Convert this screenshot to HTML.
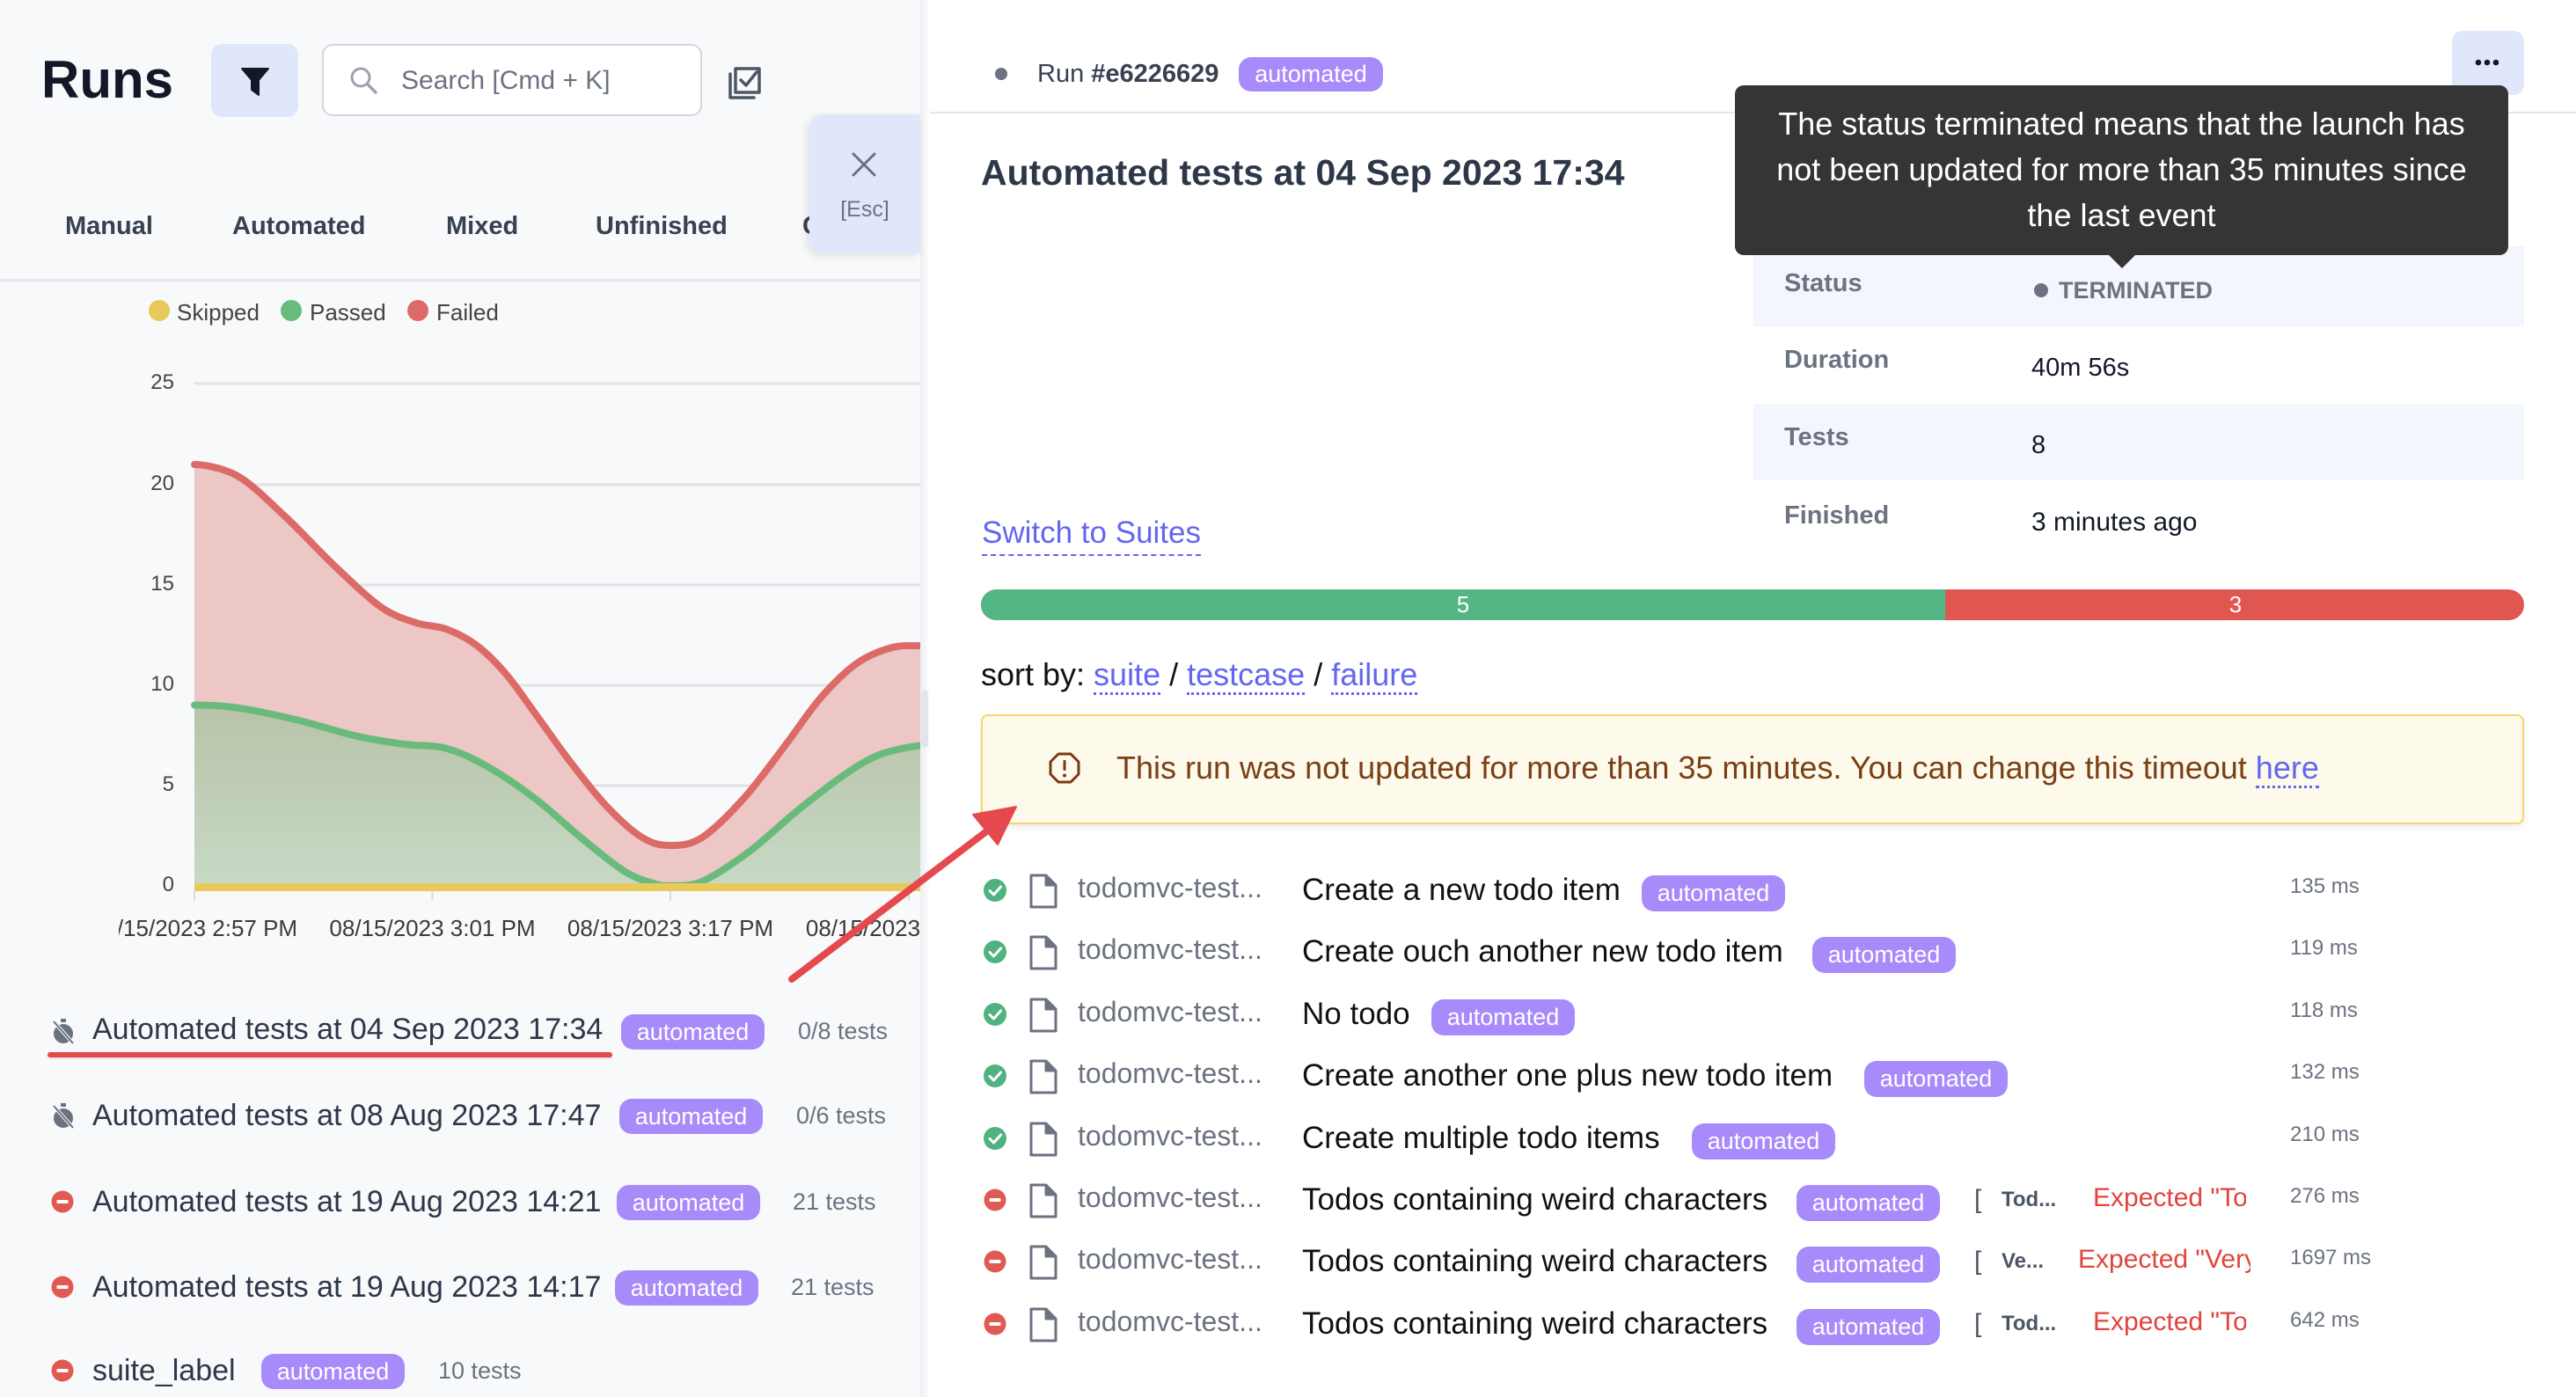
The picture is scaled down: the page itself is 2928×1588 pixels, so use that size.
<!DOCTYPE html>
<html>
<head>
<meta charset="utf-8">
<style>
html,body{margin:0;padding:0;}
body{width:2928px;height:1588px;overflow:hidden;background:#ffffff;position:relative;font-family:"Liberation Sans",sans-serif;}
.t{position:absolute;white-space:nowrap;font-family:"Liberation Sans",sans-serif;}
.badge{position:absolute;height:41px;width:163px;border-radius:14px;background:#a78bfa;color:#fff;font-size:27px;line-height:41px;text-align:center;font-family:"Liberation Sans",sans-serif;}
</style>
</head>
<body>

<!-- LEFT PANEL -->
<div style="position:absolute;left:0;top:0;width:1046px;height:1588px;background:#f8f9fb;"></div>
<div style="position:absolute;left:1046px;top:0;width:11px;height:1588px;background:linear-gradient(to right,#eceef1,#f7f8f9 60%,#ffffff);"></div>
<div style="position:absolute;left:1047px;top:784px;width:8px;height:66px;border-radius:4px;background:#e3e5e9;"></div>

<!-- Runs header -->
<div class="t" style="left:47px;top:58px;font-size:60px;line-height:66px;font-weight:bold;color:#111827;">Runs</div>
<div style="position:absolute;left:240px;top:50px;width:99px;height:83px;border-radius:12px;background:#e1e7fb;"></div>
<svg style="position:absolute;left:274px;top:76px" width="32" height="34" viewBox="0 0 32 34">
  <path d="M1,2 H31 L20,15 V32 L12,26 V15 Z" fill="#111827" stroke="#111827" stroke-width="2" stroke-linejoin="round"/>
</svg>
<div style="position:absolute;left:366px;top:50px;width:428px;height:78px;border:2px solid #d4d7dd;border-radius:12px;background:#fff;"></div>
<svg style="position:absolute;left:396px;top:74px" width="36" height="36" viewBox="0 0 36 36">
  <circle cx="14" cy="14" r="10" fill="none" stroke="#9ca3af" stroke-width="3"/>
  <line x1="21.5" y1="21.5" x2="31" y2="31" stroke="#9ca3af" stroke-width="3.5" stroke-linecap="round"/>
</svg>
<div class="t" style="left:456px;top:72px;font-size:30px;line-height:40px;color:#6b7280;">Search [Cmd + K]</div>
<svg style="position:absolute;left:826px;top:74px" width="42" height="40" viewBox="0 0 42 40">
  <path d="M4,10 V37 H31" fill="none" stroke="#4b5563" stroke-width="3.5" stroke-linecap="round" stroke-linejoin="round"/>
  <path d="M10,4 H37 V31 H10 Z" fill="none" stroke="#4b5563" stroke-width="3.5" stroke-linejoin="round"/>
  <path d="M16,17 L22,23 L34,8" fill="none" stroke="#4b5563" stroke-width="3.5" stroke-linecap="round" stroke-linejoin="round"/>
</svg>

<!-- Tabs -->
<div class="t" style="left:74px;top:237px;font-size:29px;line-height:40px;font-weight:bold;color:#374151;">Manual</div>
<div class="t" style="left:264px;top:237px;font-size:29px;line-height:40px;font-weight:bold;color:#374151;">Automated</div>
<div class="t" style="left:507px;top:237px;font-size:29px;line-height:40px;font-weight:bold;color:#374151;">Mixed</div>
<div class="t" style="left:677px;top:237px;font-size:29px;line-height:40px;font-weight:bold;color:#374151;">Unfinished</div>
<div style="position:absolute;left:900px;top:230px;width:146px;height:60px;overflow:hidden;">
  <div class="t" style="left:12px;top:7px;font-size:29px;line-height:40px;font-weight:bold;color:#374151;">Completed</div>
</div>

<!-- Close button -->
<div style="position:absolute;left:920px;top:130px;width:126px;height:158px;border-radius:16px 0 0 16px;background:#e1e7fb;box-shadow:-3px 3px 10px rgba(0,0,0,0.10);"></div>
<svg style="position:absolute;left:966px;top:172px" width="32" height="30" viewBox="0 0 32 30">
  <line x1="4" y1="3" x2="28" y2="27" stroke="#6b7280" stroke-width="3" stroke-linecap="round"/>
  <line x1="28" y1="3" x2="4" y2="27" stroke="#6b7280" stroke-width="3" stroke-linecap="round"/>
</svg>
<div class="t" style="left:920px;width:126px;text-align:center;top:222px;font-size:25px;line-height:32px;color:#6b7280;">[Esc]</div>

<div style="position:absolute;left:0;top:317px;width:1046px;height:3px;background:#e5e7eb;"></div>

<!-- Legend + Chart -->
<svg style="position:absolute;left:0;top:0" width="1046" height="1100">
  <circle cx="181" cy="353" r="12" fill="#e8c95c"/>
  <circle cx="331" cy="353" r="12" fill="#69bb7c"/>
  <circle cx="475" cy="353" r="12" fill="#dc6b68"/>
  <text x="201" y="364" font-family="Liberation Sans" font-size="26" fill="#444">Skipped</text>
  <text x="352" y="364" font-family="Liberation Sans" font-size="26" fill="#444">Passed</text>
  <text x="496" y="364" font-family="Liberation Sans" font-size="26" fill="#444">Failed</text>

  <defs>
    <clipPath id="cc"><rect x="135" y="380" width="911" height="720"/></clipPath>
    <linearGradient id="gg" x1="0" y1="0" x2="0" y2="1">
      <stop offset="0" stop-color="#b8c3a8"/>
      <stop offset="1" stop-color="#c7d9c6"/>
    </linearGradient>
  </defs>
  <g clip-path="url(#cc)">
    <g stroke="#e1e2e5" stroke-width="3">
      <line x1="221" y1="436" x2="1046" y2="436"/>
      <line x1="221" y1="551" x2="1046" y2="551"/>
      <line x1="221" y1="665" x2="1046" y2="665"/>
      <line x1="221" y1="779" x2="1046" y2="779"/>
      <line x1="221" y1="893" x2="1046" y2="893"/>
    </g>
    <g stroke="#dcdcdc" stroke-width="2">
      <line x1="221" y1="1012" x2="221" y2="1024"/>
      <line x1="491.5" y1="1012" x2="491.5" y2="1024"/>
      <line x1="762" y1="1012" x2="762" y2="1024"/>
      <line x1="1033" y1="1012" x2="1033" y2="1024"/>
    </g>
    <g font-family="Liberation Sans" font-size="24" fill="#444" text-anchor="end">
      <text x="198" y="442">25</text>
      <text x="198" y="557">20</text>
      <text x="198" y="671">15</text>
      <text x="198" y="785">10</text>
      <text x="198" y="899">5</text>
      <text x="198" y="1013">0</text>
    </g>
    <g font-family="Liberation Sans" font-size="26" fill="#3a3a3a" text-anchor="middle">
      <text x="221" y="1064">08/15/2023 2:57 PM</text>
      <text x="491.5" y="1064">08/15/2023 3:01 PM</text>
      <text x="762" y="1064">08/15/2023 3:17 PM</text>
      <text x="1033" y="1064">08/15/2023 3:25 PM</text>
    </g>
    <!-- red area -->
    <path fill="#edc6c6" d="M221,528 C229,528 252.8,531.2 270,541 C287.2,550.8 305.8,570.2 324,587 C342.2,603.8 360.8,624.8 379,642 C397.2,659.2 417.3,679 433,690 C448.7,701 460.7,703.8 473,708 C485.3,712.2 495.7,710.8 507,715 C518.3,719.2 529.7,724.5 541,733 C552.3,741.5 563.7,752.8 575,766 C586.3,779.2 596.7,795.2 609,812 C621.3,828.8 635.5,849.5 649,867 C662.5,884.5 676.5,902.8 690,917 C703.5,931.2 718,944.7 730,952 C742,959.3 750.7,961 762,961 C773.3,961 784.2,960.8 798,952 C811.8,943.2 829.3,925.3 845,908 C860.7,890.7 877.3,867.2 892,848 C906.7,828.8 919.3,808.7 933,793 C946.7,777.3 960.5,763.5 974,754 C987.5,744.5 1002,739.3 1014,736 C1026,732.7 1040.7,734.3 1046,734 L1046,1008 L221,1008 Z"/>
    <!-- green area -->
    <path fill="url(#gg)" d="M221,801.5 C229,801.5 251,801.9 270.5,804.7 C290,807.5 315.5,813.15 338,818.5 C360.5,823.85 385.4,832.2 405.7,836.8 C426,841.4 442.9,843.7 459.8,846 C476.7,848.3 491.3,846.4 507,850.6 C522.7,854.8 537.1,861.7 554,871.3 C570.9,880.9 590.4,894.2 608.5,908 C626.6,921.8 645.7,940.2 662.6,954 C679.5,967.8 696.5,982.2 710,990.6 C723.5,999 735,1001.7 743.7,1004.4 C752.4,1007.1 753,1007.1 762,1006.7 C771,1006.3 783,1008.5 798,1002 C813,995.5 834,981.1 852,967.7 C870,954.3 888,936.3 906,921.8 C924,907.3 944.2,891.2 960,880.5 C975.8,869.8 986.4,863 1000.7,857.5 C1015,852 1041,847.9 1046,847.4 L1046,1008 L221,1008 Z"/>
    <path fill="none" stroke="#dc6b68" stroke-width="8" stroke-linecap="round" d="M221,528 C229,528 252.8,531.2 270,541 C287.2,550.8 305.8,570.2 324,587 C342.2,603.8 360.8,624.8 379,642 C397.2,659.2 417.3,679 433,690 C448.7,701 460.7,703.8 473,708 C485.3,712.2 495.7,710.8 507,715 C518.3,719.2 529.7,724.5 541,733 C552.3,741.5 563.7,752.8 575,766 C586.3,779.2 596.7,795.2 609,812 C621.3,828.8 635.5,849.5 649,867 C662.5,884.5 676.5,902.8 690,917 C703.5,931.2 718,944.7 730,952 C742,959.3 750.7,961 762,961 C773.3,961 784.2,960.8 798,952 C811.8,943.2 829.3,925.3 845,908 C860.7,890.7 877.3,867.2 892,848 C906.7,828.8 919.3,808.7 933,793 C946.7,777.3 960.5,763.5 974,754 C987.5,744.5 1002,739.3 1014,736 C1026,732.7 1040.7,734.3 1046,734"/>
    <path fill="none" stroke="#69bb7c" stroke-width="8" stroke-linecap="round" d="M221,801.5 C229,801.5 251,801.9 270.5,804.7 C290,807.5 315.5,813.15 338,818.5 C360.5,823.85 385.4,832.2 405.7,836.8 C426,841.4 442.9,843.7 459.8,846 C476.7,848.3 491.3,846.4 507,850.6 C522.7,854.8 537.1,861.7 554,871.3 C570.9,880.9 590.4,894.2 608.5,908 C626.6,921.8 645.7,940.2 662.6,954 C679.5,967.8 696.5,982.2 710,990.6 C723.5,999 735,1001.7 743.7,1004.4 C752.4,1007.1 753,1007.1 762,1006.7 C771,1006.3 783,1008.5 798,1002 C813,995.5 834,981.1 852,967.7 C870,954.3 888,936.3 906,921.8 C924,907.3 944.2,891.2 960,880.5 C975.8,869.8 986.4,863 1000.7,857.5 C1015,852 1041,847.9 1046,847.4"/>
    <line x1="221" y1="1008.5" x2="1046" y2="1008.5" stroke="#e8c95c" stroke-width="9"/>
  </g>
</svg>

<!-- Runs list -->
<svg style="position:absolute;left:56px;top:1157px" width="32" height="32" viewBox="0 0 32 32">
  <rect x="13" y="1" width="6" height="4" fill="#6b7280"/>
  <circle cx="16" cy="18" r="11" fill="#6b7280"/>
  <line x1="4" y1="3" x2="28" y2="30" stroke="#f8f9fb" stroke-width="4"/>
  <line x1="5" y1="4" x2="27" y2="29" stroke="#6b7280" stroke-width="2"/>
</svg>
<div class="t" style="left:105px;top:1150px;font-size:34px;line-height:40px;color:#2d3748;">Automated tests at 04 Sep 2023 17:34</div>
<div class="badge" style="left:706px;top:1153px;height:40px;line-height:40px;">automated</div>
<div class="t" style="left:907px;top:1153px;font-size:27px;line-height:38px;color:#6b7280;">0/8 tests</div>
<div style="position:absolute;left:54px;top:1196px;width:642px;height:6px;border-radius:3px;background:#e5484d;box-shadow:0 1px 2px rgba(0,0,0,0.15);"></div>

<svg style="position:absolute;left:56px;top:1253px" width="32" height="32" viewBox="0 0 32 32">
  <rect x="13" y="1" width="6" height="4" fill="#6b7280"/>
  <circle cx="16" cy="18" r="11" fill="#6b7280"/>
  <line x1="4" y1="3" x2="28" y2="30" stroke="#f8f9fb" stroke-width="4"/>
  <line x1="5" y1="4" x2="27" y2="29" stroke="#6b7280" stroke-width="2"/>
</svg>
<div class="t" style="left:105px;top:1248px;font-size:34px;line-height:40px;color:#2d3748;">Automated tests at 08 Aug 2023 17:47</div>
<div class="badge" style="left:704px;top:1249px;height:40px;line-height:40px;">automated</div>
<div class="t" style="left:905px;top:1249px;font-size:27px;line-height:38px;color:#6b7280;">0/6 tests</div>

<svg style="position:absolute;left:58px;top:1353px" width="26" height="26" viewBox="0 0 26 26">
  <circle cx="13" cy="13" r="12.5" fill="#e05a53"/><rect x="6.5" y="11" width="13" height="4" rx="1" fill="#fff"/>
</svg>
<div class="t" style="left:105px;top:1346px;font-size:34px;line-height:40px;color:#2d3748;">Automated tests at 19 Aug 2023 14:21</div>
<div class="badge" style="left:701px;top:1347px;height:40px;line-height:40px;">automated</div>
<div class="t" style="left:901px;top:1347px;font-size:27px;line-height:38px;color:#6b7280;">21 tests</div>

<svg style="position:absolute;left:58px;top:1450px" width="26" height="26" viewBox="0 0 26 26">
  <circle cx="13" cy="13" r="12.5" fill="#e05a53"/><rect x="6.5" y="11" width="13" height="4" rx="1" fill="#fff"/>
</svg>
<div class="t" style="left:105px;top:1443px;font-size:34px;line-height:40px;color:#2d3748;">Automated tests at 19 Aug 2023 14:17</div>
<div class="badge" style="left:699px;top:1444px;height:40px;line-height:40px;">automated</div>
<div class="t" style="left:899px;top:1444px;font-size:27px;line-height:38px;color:#6b7280;">21 tests</div>

<svg style="position:absolute;left:58px;top:1545px" width="26" height="26" viewBox="0 0 26 26">
  <circle cx="13" cy="13" r="12.5" fill="#e05a53"/><rect x="6.5" y="11" width="13" height="4" rx="1" fill="#fff"/>
</svg>
<div class="t" style="left:105px;top:1538px;font-size:34px;line-height:40px;color:#2d3748;">suite_label</div>
<div class="badge" style="left:297px;top:1539px;height:40px;line-height:40px;">automated</div>
<div class="t" style="left:498px;top:1539px;font-size:27px;line-height:38px;color:#6b7280;">10 tests</div>

<!-- RIGHT PANEL -->
<div style="position:absolute;left:1131px;top:77px;width:14px;height:14px;border-radius:50%;background:#6b7280;"></div>
<div class="t" style="left:1179px;top:64px;font-size:29px;line-height:40px;color:#374151;">Run <b>#e6226629</b></div>
<div class="badge" style="left:1408px;top:65px;height:39px;line-height:39px;width:164px;">automated</div>
<div style="position:absolute;left:1057px;top:127px;width:1871px;height:2px;background:#e5e7eb;"></div>

<div style="position:absolute;left:2787px;top:35px;width:82px;height:73px;border-radius:12px;background:#e1e7fb;"></div>
<svg style="position:absolute;left:2812px;top:65px" width="30" height="12" viewBox="0 0 30 12">
  <circle cx="5" cy="6" r="3.3" fill="#111827"/><circle cx="15" cy="6" r="3.3" fill="#111827"/><circle cx="25" cy="6" r="3.3" fill="#111827"/>
</svg>

<div class="t" style="left:1115px;top:172px;font-size:41px;line-height:48px;font-weight:bold;color:#2d3748;">Automated tests at 04 Sep 2023 17:34</div>

<!-- Table -->
<div style="position:absolute;left:1993px;top:280px;width:876px;height:91px;background:#f3f6fd;"></div>
<div style="position:absolute;left:1993px;top:459px;width:876px;height:87px;background:#f3f6fd;"></div>
<div class="t" style="left:2028px;top:302px;font-size:29px;line-height:40px;font-weight:bold;color:#6b7280;">Status</div>
<div style="position:absolute;left:2312px;top:322px;width:16px;height:16px;border-radius:50%;background:#6b7280;"></div>
<div class="t" style="left:2340px;top:310px;font-size:27px;line-height:40px;font-weight:bold;color:#6b7280;">TERMINATED</div>
<div class="t" style="left:2028px;top:389px;font-size:29px;line-height:40px;font-weight:bold;color:#6b7280;">Duration</div>
<div class="t" style="left:2309px;top:398px;font-size:29px;line-height:40px;color:#111827;">40m 56s</div>
<div class="t" style="left:2028px;top:477px;font-size:29px;line-height:40px;font-weight:bold;color:#6b7280;">Tests</div>
<div class="t" style="left:2309px;top:486px;font-size:29px;line-height:40px;color:#111827;">8</div>
<div class="t" style="left:2028px;top:566px;font-size:29px;line-height:40px;font-weight:bold;color:#6b7280;">Finished</div>
<div class="t" style="left:2309px;top:574px;font-size:30px;line-height:40px;color:#111827;">3 minutes ago</div>

<!-- Tooltip -->
<div style="position:absolute;left:1972px;top:97px;width:879px;height:193px;border-radius:10px;background:#353535;"></div>
<svg style="position:absolute;left:2395px;top:288px" width="34" height="18" viewBox="0 0 34 18"><polygon points="0,0 34,0 17,17" fill="#353535"/></svg>
<div class="t" style="left:1972px;top:115px;width:879px;text-align:center;font-size:36px;line-height:52px;color:#ffffff;">The status terminated means that the launch has<br>not been updated for more than 35 minutes since<br>the last event</div>

<!-- Switch to suites -->
<div class="t" style="left:1116px;top:586px;font-size:35px;line-height:40px;color:#6366f1;"><span style="border-bottom:2px dashed #6366f1;padding-bottom:5px;">Switch to Suites</span></div>

<!-- Progress bar -->
<div style="position:absolute;left:1115px;top:670px;width:1754px;height:35px;border-radius:18px;overflow:hidden;background:#e05650;">
  <div style="position:absolute;left:0;top:0;width:1096px;height:35px;background:#55b685;"></div>
</div>
<div class="t" style="left:1623px;width:80px;text-align:center;top:670px;font-size:26px;line-height:35px;color:#fff;">5</div>
<div class="t" style="left:2501px;width:80px;text-align:center;top:670px;font-size:26px;line-height:35px;color:#fff;">3</div>

<!-- Sort by -->
<div class="t" style="left:1115px;top:746px;font-size:36px;line-height:42px;color:#111;">sort by: <span style="color:#6366f1;border-bottom:3px dotted #6366f1;">suite</span> / <span style="color:#6366f1;border-bottom:3px dotted #6366f1;">testcase</span> / <span style="color:#6366f1;border-bottom:3px dotted #6366f1;">failure</span></div>

<!-- Warning -->
<div style="position:absolute;left:1115px;top:812px;width:1750px;height:121px;border:2px solid #f5d667;border-radius:8px;background:#fdfaeb;box-shadow:0 4px 8px rgba(0,0,0,0.07);"></div>
<svg style="position:absolute;left:1192px;top:855px" width="36" height="36" viewBox="0 0 36 36">
  <polygon points="11,2 25,2 34,11 34,25 25,34 11,34 2,25 2,11" fill="none" stroke="#7c3a0e" stroke-width="3" stroke-linejoin="round"/>
  <rect x="16.5" y="9" width="3" height="12" rx="1" fill="#7c3a0e"/>
  <circle cx="18" cy="26.5" r="2" fill="#7c3a0e"/>
</svg>
<div class="t" style="left:1269px;top:852px;font-size:36px;line-height:42px;color:#7b3f14;">This run was not updated for more than 35 minutes. You can change this timeout <span style="color:#6366f1;border-bottom:3px dotted #6366f1;">here</span></div>

<!-- Test rows -->
<!-- Row 1 -->
<svg style="position:absolute;left:1117px;top:998px" width="28" height="28" viewBox="0 0 28 28"><circle cx="14" cy="14" r="13" fill="#4fb27f"/><path d="M8,14.5 L12.5,19 L20.5,10" fill="none" stroke="#fff" stroke-width="3" stroke-linecap="round" stroke-linejoin="round"/></svg>
<svg style="position:absolute;left:1169px;top:993px" width="34" height="40" viewBox="0 0 34 40"><path d="M3,2 H20 L31,13 V38 H3 Z" fill="none" stroke="#6b7280" stroke-width="3" stroke-linejoin="round"/><path d="M20,2 V13 H31" fill="#6b7280" stroke="#6b7280" stroke-width="3" stroke-linejoin="round"/></svg>
<div class="t" style="left:1225px;top:987px;font-size:32px;line-height:44px;color:#6b7280;">todomvc-test...</div>
<div class="t" style="left:1480px;top:990px;font-size:35px;line-height:44px;color:#111;">Create a new todo item</div>
<div class="badge" style="left:1866px;top:995px;">automated</div>
<div class="t" style="left:2603px;top:992px;font-size:24px;line-height:32px;color:#6b7280;">135 ms</div>

<!-- Row 2 -->
<svg style="position:absolute;left:1117px;top:1068px" width="28" height="28" viewBox="0 0 28 28"><circle cx="14" cy="14" r="13" fill="#4fb27f"/><path d="M8,14.5 L12.5,19 L20.5,10" fill="none" stroke="#fff" stroke-width="3" stroke-linecap="round" stroke-linejoin="round"/></svg>
<svg style="position:absolute;left:1169px;top:1063px" width="34" height="40" viewBox="0 0 34 40"><path d="M3,2 H20 L31,13 V38 H3 Z" fill="none" stroke="#6b7280" stroke-width="3" stroke-linejoin="round"/><path d="M20,2 V13 H31" fill="#6b7280" stroke="#6b7280" stroke-width="3" stroke-linejoin="round"/></svg>
<div class="t" style="left:1225px;top:1057px;font-size:32px;line-height:44px;color:#6b7280;">todomvc-test...</div>
<div class="t" style="left:1480px;top:1060px;font-size:35px;line-height:44px;color:#111;">Create ouch another new todo item</div>
<div class="badge" style="left:2060px;top:1065px;">automated</div>
<div class="t" style="left:2603px;top:1062px;font-size:24px;line-height:32px;color:#6b7280;">119 ms</div>

<!-- Row 3 -->
<svg style="position:absolute;left:1117px;top:1139px" width="28" height="28" viewBox="0 0 28 28"><circle cx="14" cy="14" r="13" fill="#4fb27f"/><path d="M8,14.5 L12.5,19 L20.5,10" fill="none" stroke="#fff" stroke-width="3" stroke-linecap="round" stroke-linejoin="round"/></svg>
<svg style="position:absolute;left:1169px;top:1134px" width="34" height="40" viewBox="0 0 34 40"><path d="M3,2 H20 L31,13 V38 H3 Z" fill="none" stroke="#6b7280" stroke-width="3" stroke-linejoin="round"/><path d="M20,2 V13 H31" fill="#6b7280" stroke="#6b7280" stroke-width="3" stroke-linejoin="round"/></svg>
<div class="t" style="left:1225px;top:1128px;font-size:32px;line-height:44px;color:#6b7280;">todomvc-test...</div>
<div class="t" style="left:1480px;top:1131px;font-size:35px;line-height:44px;color:#111;">No todo</div>
<div class="badge" style="left:1627px;top:1136px;">automated</div>
<div class="t" style="left:2603px;top:1133px;font-size:24px;line-height:32px;color:#6b7280;">118 ms</div>

<!-- Row 4 -->
<svg style="position:absolute;left:1117px;top:1209px" width="28" height="28" viewBox="0 0 28 28"><circle cx="14" cy="14" r="13" fill="#4fb27f"/><path d="M8,14.5 L12.5,19 L20.5,10" fill="none" stroke="#fff" stroke-width="3" stroke-linecap="round" stroke-linejoin="round"/></svg>
<svg style="position:absolute;left:1169px;top:1204px" width="34" height="40" viewBox="0 0 34 40"><path d="M3,2 H20 L31,13 V38 H3 Z" fill="none" stroke="#6b7280" stroke-width="3" stroke-linejoin="round"/><path d="M20,2 V13 H31" fill="#6b7280" stroke="#6b7280" stroke-width="3" stroke-linejoin="round"/></svg>
<div class="t" style="left:1225px;top:1198px;font-size:32px;line-height:44px;color:#6b7280;">todomvc-test...</div>
<div class="t" style="left:1480px;top:1201px;font-size:35px;line-height:44px;color:#111;">Create another one plus new todo item</div>
<div class="badge" style="left:2119px;top:1206px;">automated</div>
<div class="t" style="left:2603px;top:1203px;font-size:24px;line-height:32px;color:#6b7280;">132 ms</div>

<!-- Row 5 -->
<svg style="position:absolute;left:1117px;top:1280px" width="28" height="28" viewBox="0 0 28 28"><circle cx="14" cy="14" r="13" fill="#4fb27f"/><path d="M8,14.5 L12.5,19 L20.5,10" fill="none" stroke="#fff" stroke-width="3" stroke-linecap="round" stroke-linejoin="round"/></svg>
<svg style="position:absolute;left:1169px;top:1275px" width="34" height="40" viewBox="0 0 34 40"><path d="M3,2 H20 L31,13 V38 H3 Z" fill="none" stroke="#6b7280" stroke-width="3" stroke-linejoin="round"/><path d="M20,2 V13 H31" fill="#6b7280" stroke="#6b7280" stroke-width="3" stroke-linejoin="round"/></svg>
<div class="t" style="left:1225px;top:1269px;font-size:32px;line-height:44px;color:#6b7280;">todomvc-test...</div>
<div class="t" style="left:1480px;top:1272px;font-size:35px;line-height:44px;color:#111;">Create multiple todo items</div>
<div class="badge" style="left:1923px;top:1277px;">automated</div>
<div class="t" style="left:2603px;top:1274px;font-size:24px;line-height:32px;color:#6b7280;">210 ms</div>

<!-- Row 6 -->
<svg style="position:absolute;left:1118px;top:1351px" width="26" height="26" viewBox="0 0 26 26"><circle cx="13" cy="13" r="12.5" fill="#e05a53"/><rect x="6.5" y="11" width="13" height="4" rx="1" fill="#fff"/></svg>
<svg style="position:absolute;left:1169px;top:1345px" width="34" height="40" viewBox="0 0 34 40"><path d="M3,2 H20 L31,13 V38 H3 Z" fill="none" stroke="#6b7280" stroke-width="3" stroke-linejoin="round"/><path d="M20,2 V13 H31" fill="#6b7280" stroke="#6b7280" stroke-width="3" stroke-linejoin="round"/></svg>
<div class="t" style="left:1225px;top:1339px;font-size:32px;line-height:44px;color:#6b7280;">todomvc-test...</div>
<div class="t" style="left:1480px;top:1342px;font-size:35px;line-height:44px;color:#111;">Todos containing weird characters</div>
<div class="badge" style="left:2042px;top:1347px;">automated</div>
<div class="t" style="left:2244px;top:1344px;font-size:30px;line-height:40px;color:#4b5563;">[</div>
<div class="t" style="left:2275px;top:1345px;font-size:24px;line-height:38px;font-weight:bold;color:#4b5563;">Tod...</div>
<div style="position:absolute;left:2379px;top:1340px;width:174px;height:46px;overflow:hidden;"><div class="t" style="left:0;top:2px;font-size:30px;line-height:40px;color:#e0443e;">Expected "Todo"</div></div>
<div class="t" style="left:2603px;top:1344px;font-size:24px;line-height:32px;color:#6b7280;">276 ms</div>

<!-- Row 7 -->
<svg style="position:absolute;left:1118px;top:1421px" width="26" height="26" viewBox="0 0 26 26"><circle cx="13" cy="13" r="12.5" fill="#e05a53"/><rect x="6.5" y="11" width="13" height="4" rx="1" fill="#fff"/></svg>
<svg style="position:absolute;left:1169px;top:1415px" width="34" height="40" viewBox="0 0 34 40"><path d="M3,2 H20 L31,13 V38 H3 Z" fill="none" stroke="#6b7280" stroke-width="3" stroke-linejoin="round"/><path d="M20,2 V13 H31" fill="#6b7280" stroke="#6b7280" stroke-width="3" stroke-linejoin="round"/></svg>
<div class="t" style="left:1225px;top:1409px;font-size:32px;line-height:44px;color:#6b7280;">todomvc-test...</div>
<div class="t" style="left:1480px;top:1412px;font-size:35px;line-height:44px;color:#111;">Todos containing weird characters</div>
<div class="badge" style="left:2042px;top:1417px;">automated</div>
<div class="t" style="left:2244px;top:1414px;font-size:30px;line-height:40px;color:#4b5563;">[</div>
<div class="t" style="left:2275px;top:1415px;font-size:24px;line-height:38px;font-weight:bold;color:#4b5563;">Ve...</div>
<div style="position:absolute;left:2362px;top:1410px;width:196px;height:46px;overflow:hidden;"><div class="t" style="left:0;top:2px;font-size:30px;line-height:40px;color:#e0443e;">Expected "Very long"</div></div>
<div class="t" style="left:2603px;top:1414px;font-size:24px;line-height:32px;color:#6b7280;">1697 ms</div>

<!-- Row 8 -->
<svg style="position:absolute;left:1118px;top:1492px" width="26" height="26" viewBox="0 0 26 26"><circle cx="13" cy="13" r="12.5" fill="#e05a53"/><rect x="6.5" y="11" width="13" height="4" rx="1" fill="#fff"/></svg>
<svg style="position:absolute;left:1169px;top:1486px" width="34" height="40" viewBox="0 0 34 40"><path d="M3,2 H20 L31,13 V38 H3 Z" fill="none" stroke="#6b7280" stroke-width="3" stroke-linejoin="round"/><path d="M20,2 V13 H31" fill="#6b7280" stroke="#6b7280" stroke-width="3" stroke-linejoin="round"/></svg>
<div class="t" style="left:1225px;top:1480px;font-size:32px;line-height:44px;color:#6b7280;">todomvc-test...</div>
<div class="t" style="left:1480px;top:1483px;font-size:35px;line-height:44px;color:#111;">Todos containing weird characters</div>
<div class="badge" style="left:2042px;top:1488px;">automated</div>
<div class="t" style="left:2244px;top:1485px;font-size:30px;line-height:40px;color:#4b5563;">[</div>
<div class="t" style="left:2275px;top:1486px;font-size:24px;line-height:38px;font-weight:bold;color:#4b5563;">Tod...</div>
<div style="position:absolute;left:2379px;top:1481px;width:174px;height:46px;overflow:hidden;"><div class="t" style="left:0;top:2px;font-size:30px;line-height:40px;color:#e0443e;">Expected "Todo"</div></div>
<div class="t" style="left:2603px;top:1485px;font-size:24px;line-height:32px;color:#6b7280;">642 ms</div>

<!-- Red annotation arrow -->
<svg style="position:absolute;left:0;top:0" width="2928" height="1588" viewBox="0 0 2928 1588">
  <line x1="900" y1="1113" x2="1128" y2="940" stroke="#e5484d" stroke-width="8" stroke-linecap="round"/>
  <polygon points="1155,917 1106,926 1134,960" fill="#e5484d" stroke="#e5484d" stroke-width="2" stroke-linejoin="round"/>
</svg>

</body>
</html>
